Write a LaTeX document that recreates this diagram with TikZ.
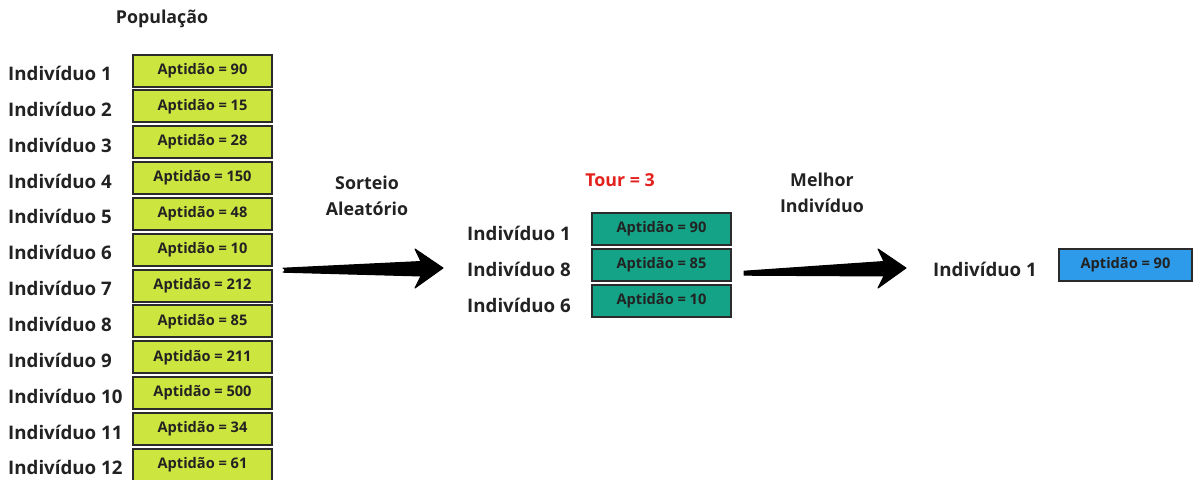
\documentclass[tikz,border=0pt]{standalone}
\usepackage{fontspec}
\setmainfont{Open Sans}
\usetikzlibrary{calc}
\definecolor{lime}{HTML}{CDE53F}
\definecolor{teal2}{HTML}{14A386}
\definecolor{sky}{HTML}{2E9BEA}
\definecolor{ink}{HTML}{222222}
\definecolor{edge}{HTML}{2B2B2B}
\definecolor{tourred}{HTML}{E3201B}
\tikzset{
  fitbox/.style={draw=edge, line width=2pt, minimum width=139pt, minimum height=32pt,
    inner sep=0pt, text=ink, font=\fontsize{14.6}{14.6}\selectfont\bfseries},
  popbox/.style={fitbox, fill=lime},
  tourbox/.style={fitbox, fill=teal2},
  bestbox/.style={fitbox, fill=sky, minimum width=133pt},
  indlabel/.style={anchor=base west, inner sep=0pt, text=ink, font=\fontsize{18.7}{18.7}\selectfont\bfseries},
  title/.style={inner sep=0pt, text=ink, align=center, font=\fontsize{17.8}{26}\selectfont\bfseries},
  bigarrow/.style={fill=black, draw=black, line width=1pt, line join=round}
}
\begin{document}
\begin{tikzpicture}[x=1pt, y=-1pt]
\useasboundingbox (0,0) rectangle (1193,479);

% population column
\node[title] (poptitle) at (162,19) {População};
\foreach \i/\v in {1/90,2/15,3/28,4/150,5/48,6/10,7/212,8/85,9/211,10/500,11/34,12/61}{
  \node[indlabel] (ind\i) at (8,{80.5+35.85*(\i-1)}) {Indivíduo \i};
  \node[popbox] (pop\i) at (202.5,{70.5+35.85*(\i-1)}) {\raisebox{1.5pt}{Aptidão = \v}};
}

% random draw
\node[title] (draw) at (367,196) {Sorteio\\Aleatório};
\coordinate (a1s) at (283,270);
\coordinate (a1e) at (443,268);
\fill[bigarrow] ($(a1s)+(0,-1.8)$) -- ($(a1e)+(-22,-6.5)$) -- ($(a1e)+(-28,-19)$)
  -- (a1e) -- ($(a1e)+(-28,20)$) -- ($(a1e)+(-22,8)$) -- ($(a1s)+(0,2.2)$)
  arc[start angle=90, end angle=270, radius=-2pt] -- cycle;

% tournament
\node[inner sep=0pt, text=tourred, font=\fontsize{17.8}{17.8}\selectfont\bfseries] (tour) at (620,180) {Tour = 3};
\foreach \k/\i/\v in {1/1/90,2/8/85,3/6/10}{
  \node[indlabel] (sel\k) at (467,{240.5+35.8*(\k-1)}) {Indivíduo \i};
  \node[tourbox] (t\k) at (661.5,{229+36*(\k-1)}) {\raisebox{1.5pt}{Aptidão = \v}};
}

% best individual
\node[title] (best) at (822,193) {Melhor\\Indivíduo};
\coordinate (a2s) at (744,273);
\coordinate (a2e) at (906,268);
\fill[bigarrow] ($(a2s)+(0,-1.8)$) -- ($(a2e)+(-22,-6.5)$) -- ($(a2e)+(-28,-19)$)
  -- (a2e) -- ($(a2e)+(-28,20)$) -- ($(a2e)+(-22,8)$) -- ($(a2s)+(0,2.2)$) -- cycle;
\node[indlabel] (win) at (933,276.5) {Indivíduo 1};
\node[bestbox] (winbox) at (1125.5,265) {\raisebox{1.5pt}{Aptidão = 90}};
\end{tikzpicture}
\end{document}
